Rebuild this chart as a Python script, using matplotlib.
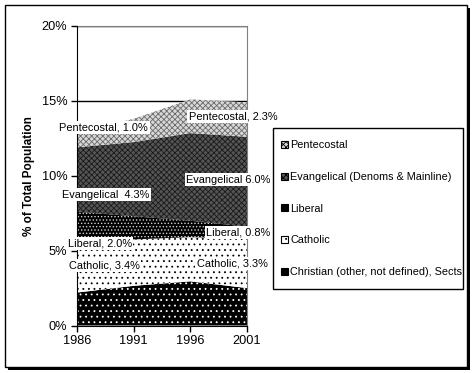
import matplotlib
matplotlib.use("Agg")
import matplotlib.pyplot as plt
import numpy as np
from matplotlib.patches import Patch, Rectangle

plt.rcParams['font.family'] = ['Liberation Sans', 'DejaVu Sans']
plt.rcParams['hatch.linewidth'] = 0.6

years = [1986, 1991, 1996, 2001]
christian = [2.2, 2.65, 2.95, 2.5]
catholic = [3.4, 3.1, 2.95, 3.3]
liberal = [2.0, 1.55, 1.1, 0.8]
evangelical = [4.3, 4.95, 5.85, 6.0]
pentecostal = [1.0, 1.55, 2.25, 2.3]

series_names = ["Christian (other, not defined), Sects", "Catholic", "Liberal",
                "Evangelical (Denoms & Mainline)", "Pentecostal"]
series = [christian, catholic, liberal, evangelical, pentecostal]
yticks = [0, 5, 10, 15, 20]
ytick_labels = ["0%", "5%", "10%", "15%", "20%"]

styles = [
    dict(facecolor='black', edgecolor='white', hatch='...'),
    dict(facecolor='white', edgecolor='black', hatch='...'),
    dict(facecolor='black', edgecolor='#d0d0d0', hatch='.....'),
    dict(facecolor='#555555', edgecolor='#1a1a1a', hatch='xxxxxx'),
    dict(facecolor='#d8d8d8', edgecolor='#6a6a6a', hatch='xxxxxx'),
]

fig = plt.figure(figsize=(4.74, 3.73), dpi=100)
ax = fig.add_axes([77/474, 1-325.5/373, 170/474, 299.5/373])

x = np.array(years)
base = np.zeros(len(years))
for vals, st in zip(series, styles):
    top = base + np.array(vals)
    ax.fill_between(x, base, top, linewidth=0, zorder=2, **st)
    base = top

for yv in yticks[1:]:
    ax.axhline(yv, color='black', lw=1, zorder=1)

ax.set_xlim(years[0], years[-1])
ax.set_ylim(0, 20)
ax.set_xticks(years)
ax.set_xticklabels([str(y) for y in years], fontsize=9.2)
ax.set_yticks(yticks)
ax.set_yticklabels(ytick_labels, fontsize=9.2)
ax.tick_params(direction='out', length=4, width=1, color='black', pad=3)
for s in ['top', 'right']:
    ax.spines[s].set_color('#808080')
for s in ['left', 'bottom']:
    ax.spines[s].set_color('black')
ax.spines['left'].set_zorder(5)
ax.set_ylabel("% of Total Population", fontsize=8.5, fontweight='bold')
ax.yaxis.set_label_coords(-0.245, 0.5)

# data labels (first and last year of each series)
lbl_pos = {
    (4, 0): (1988.35, 13.2, "Pentecostal, {:.1f}%"),
    (4, -1): (1999.8, 13.95, "Pentecostal, {:.1f}%"),
    (3, 0): (1988.5, 8.74, "Evangelical  {:.1f}%"),
    (3, -1): (1999.37, 9.74, "Evangelical {:.1f}%"),
    (2, 0): (1988.0, 5.46, "Liberal, {:.1f}%"),
    (2, -1): (2000.25, 6.2, "Liberal, {:.1f}%"),
    (1, 0): (1988.38, 3.99, "Catholic, {:.1f}%"),
    (1, -1): (1999.7, 4.12, "Catholic, {:.1f}%"),
}
for (si, idx), (lx, ly, fmt) in lbl_pos.items():
    ax.text(lx, ly, fmt.format(series[si][idx]), ha='center', va='center',
            fontsize=7.9, zorder=6, clip_on=False,
            bbox=dict(facecolor='white', edgecolor='none', pad=1.2))

# legend frame drawn separately to match the reference box
fig.patches.append(Rectangle((273/474, 1-289/373), 190/474, 161/373,
                             transform=fig.transFigure, facecolor='white',
                             edgecolor='black', lw=1, zorder=3))

order = range(4, -1, -1)
handles = []
for i in order:
    h = Patch(linewidth=0.8, **styles[i])
    h.set_edgecolor('black')
    handles.append(h)
labels = [series_names[i] for i in order]
leg = fig.legend(handles, labels, loc='upper left',
                 bbox_to_anchor=(271/474, 1-130/373), fontsize=7.8,
                 frameon=False, borderaxespad=0, labelspacing=2.0,
                 handlelength=0.6, handleheight=0.6, handletextpad=0.25,
                 borderpad=0.95)
leg.set_zorder(5)

# figure frame with shadow
fig.patches.append(Rectangle((8/474, 1-370/373), 462/474, 362/373, transform=fig.transFigure,
                             facecolor='black', edgecolor='none', zorder=-2))
fig.patches.append(Rectangle((5/474, 1-367/373), 462/474, 362/373, transform=fig.transFigure,
                             facecolor='white', edgecolor='black', lw=1, zorder=-1))

fig.savefig("out.png", dpi=100)
